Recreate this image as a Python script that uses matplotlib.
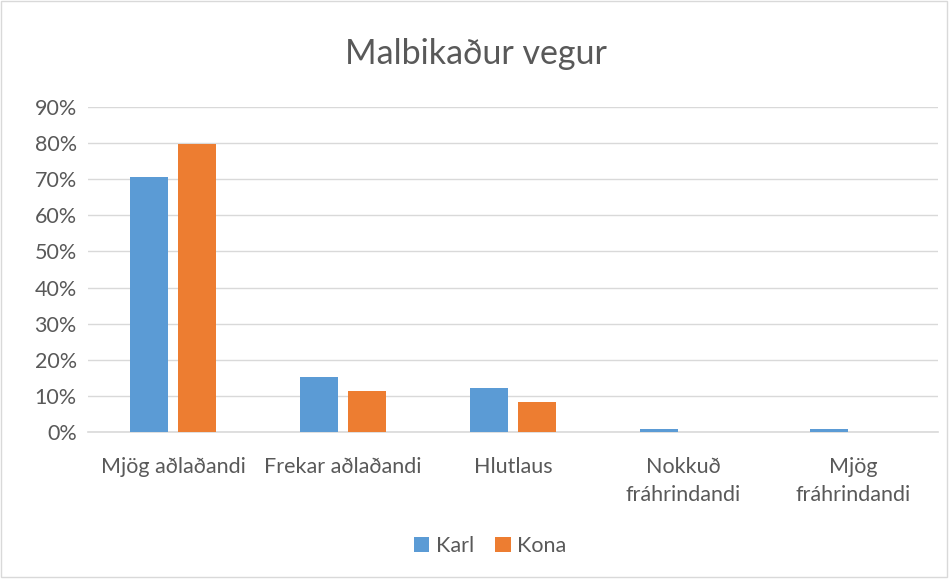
import matplotlib
matplotlib.use("Agg")
import matplotlib.pyplot as plt
import numpy as np

categories = ["Mjög aðlaðandi", "Frekar aðlaðandi", "Hlutlaus",
              "Nokkuð\nfráhrindandi", "Mjög\nfráhrindandi"]
karl = [0.706, 0.153, 0.121, 0.008, 0.008]
kona = [0.797, 0.114, 0.084, 0.0, 0.0]
yticks = [0, 0.1, 0.2, 0.3, 0.4, 0.5, 0.6, 0.7, 0.8, 0.9]

plt.rcParams['font.family'] = ['Lato', 'DejaVu Sans']
grey = '#595959'

fig = plt.figure(figsize=(9.52, 5.79), dpi=100)
ax = fig.add_axes([0.0924, 0.254, 0.893, 0.561])

x = np.arange(len(categories))
w = 0.225
ax.bar(x - 0.142, karl, w, color='#5b9bd5', label='Karl', zorder=3)
ax.bar(x + 0.142, kona, w, color='#ed7d31', label='Kona', zorder=3)

ax.set_xlim(-0.5, len(categories) - 0.5)
ax.set_ylim(0, 0.9)
ax.set_yticks(yticks)
ax.set_yticklabels([f"{int(round(t * 100))}%" for t in yticks])
ax.set_xticks(x)
ax.set_xticklabels(categories, linespacing=1.5)
ax.tick_params(axis='both', length=0, labelsize=15.5, colors=grey)
ax.tick_params(axis='x', pad=18)
ax.tick_params(axis='y', pad=8)
ax.grid(axis='y', color='#d9d9d9', linewidth=1, zorder=0)
for s in ['top', 'right', 'left']:
    ax.spines[s].set_visible(False)
ax.spines['bottom'].set_color('#d9d9d9')
ax.spines['bottom'].set_linewidth(1.2)

fig.text(0.5, 0.907, "Malbikaður vegur", ha='center', va='center',
         fontsize=24.5, color=grey)

fig.legend(loc='center', bbox_to_anchor=(0.515, 0.057), ncol=2, frameon=False,
           fontsize=15.5, labelcolor=grey, handlelength=0.7, handleheight=0.7,
           handletextpad=0.3, columnspacing=1.0)

fig.patches.append(plt.Rectangle((0.001, 0.003), 0.994, 0.995,
                                 transform=fig.transFigure, fill=False,
                                 edgecolor='#d9d9d9', linewidth=1))

fig.savefig("out.png", dpi=100)
